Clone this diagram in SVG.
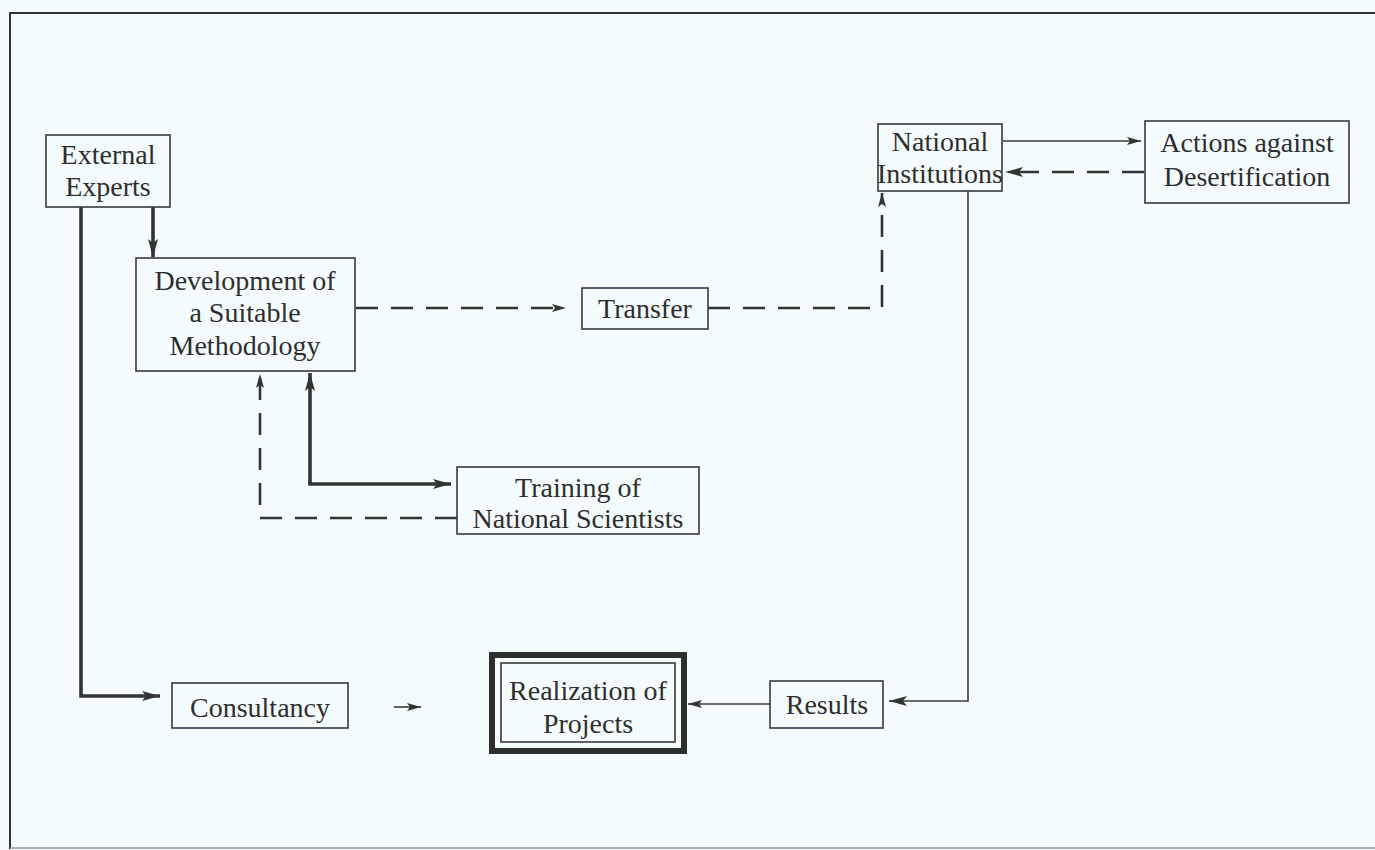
<svg xmlns="http://www.w3.org/2000/svg" width="1375" height="850" viewBox="0 0 1375 850">
<style>
.bg{fill:#f4fbfd}
.box{fill:none;stroke:#3a3a3a;stroke-width:1.6}
.t{font-family:"Liberation Serif","Times New Roman",serif;font-size:28px;fill:#2e2e2e;text-anchor:middle}
.thin{fill:none;stroke:#3a3a3a;stroke-width:1.6}
.thick{fill:none;stroke:#333;stroke-width:3.6}
.dash{fill:none;stroke:#333;stroke-width:2.6;stroke-dasharray:22 13}
</style>
<defs>
<marker id="ah" markerUnits="userSpaceOnUse" markerWidth="20" markerHeight="12" refX="18" refY="5" orient="auto">
<path d="M0,0 L18,5 L0,10 L4,5 z" fill="#333"/>
</marker>
<marker id="ahs" markerUnits="userSpaceOnUse" markerWidth="16" markerHeight="10" refX="14" refY="4" orient="auto">
<path d="M0,0 L14,4 L0,8 L3,4 z" fill="#333"/>
</marker>
</defs>
<rect class="bg" x="0" y="0" width="1375" height="850"/>
<path d="M10,849 L10,13 L1375,13" fill="none" stroke="#333" stroke-width="2"/>
<line x1="10" y1="848" x2="1375" y2="848" stroke="#999" stroke-width="1.5"/>

<g id="connectors">
<polyline class="thick" points="81,207 81,696 160,696" marker-end="url(#ah)"/>
<line class="thick" x1="153" y1="207" x2="153" y2="257" marker-end="url(#ah)"/>
<line class="dash" x1="356" y1="308" x2="566" y2="308" marker-end="url(#ahs)"/>
<polyline class="dash" points="708,308 882,308 882,193" marker-end="url(#ahs)"/>
<line class="thin" x1="1003" y1="141" x2="1141" y2="141" marker-end="url(#ahs)"/>
<line class="dash" x1="1144" y1="172" x2="1005" y2="172" marker-end="url(#ah)"/>
<line class="thick" x1="310" y1="484" x2="310" y2="373" marker-end="url(#ah)"/>
<line class="thick" x1="308.2" y1="484" x2="451" y2="484" marker-end="url(#ah)"/>
<polyline class="dash" points="457,518 260,518 260,374" marker-end="url(#ahs)"/>
<line class="thin" x1="394" y1="707" x2="421" y2="707" marker-end="url(#ahs)"/>
<line class="thin" x1="770" y1="704" x2="688" y2="704" marker-end="url(#ahs)"/>
<polyline class="thin" points="968,191 968,701 889,701" marker-end="url(#ah)"/>
</g>

<g id="external-experts">
<rect class="box" x="46" y="135" width="124" height="72"/>
<text class="t" x="108" y="164">External</text>
<text class="t" x="108" y="196">Experts</text>
</g>
<g id="development">
<rect class="box" x="136" y="258" width="219" height="113"/>
<text class="t" x="245" y="290">Development of</text>
<text class="t" x="245" y="322">a Suitable</text>
<text class="t" x="245" y="355">Methodology</text>
</g>
<g id="transfer">
<rect class="box" x="582" y="288" width="126" height="41"/>
<text class="t" x="645" y="318">Transfer</text>
</g>
<g id="national-institutions">
<rect class="box" x="878" y="124" width="124" height="67"/>
<text class="t" x="940" y="151">National</text>
<text class="t" x="940" y="183">Institutions</text>
</g>
<g id="actions">
<rect class="box" x="1145" y="121" width="204" height="82"/>
<text class="t" x="1247" y="152">Actions against</text>
<text class="t" x="1247" y="186">Desertification</text>
</g>
<g id="training">
<rect class="box" x="457" y="467" width="242" height="67"/>
<text class="t" x="578" y="497">Training of</text>
<text class="t" x="578" y="528">National Scientists</text>
</g>
<g id="consultancy">
<rect class="box" x="172" y="683" width="176" height="45"/>
<text class="t" x="260" y="717">Consultancy</text>
</g>
<g id="realization">
<rect x="492" y="655" width="192" height="96" fill="none" stroke="#2e2e2e" stroke-width="6"/>
<rect class="box" x="501" y="663" width="174" height="79"/>
<text class="t" x="588" y="700">Realization of</text>
<text class="t" x="588" y="733">Projects</text>
</g>
<g id="results">
<rect class="box" x="770" y="681" width="113" height="47"/>
<text class="t" x="827" y="714">Results</text>
</g>
</svg>
